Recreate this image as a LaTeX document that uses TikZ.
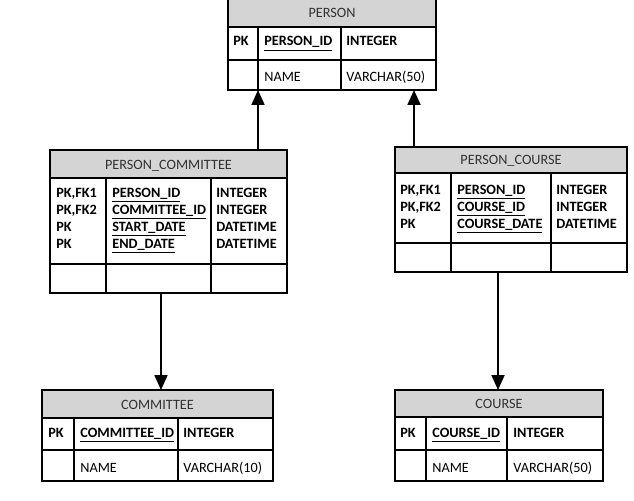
\documentclass[tikz,border=0pt]{standalone}
\usepackage{fontspec}
\setmainfont{Carlito}
\usetikzlibrary{arrows.meta}
\definecolor{headgray}{RGB}{212,212,212}
\definecolor{headink}{RGB}{50,50,50}
\begin{document}
\begin{tikzpicture}
[x=0.02cm,y=-0.02cm,
  font=\fontsize{8.1}{9.6}\selectfont,
  headdecorate/.style={draw,line width=0.75pt,fill=headgray},
  celldecorate/.style={draw,line width=0.75pt},
  titledecorate/.style={anchor=base,inner sep=0pt,text=headink},
  fielddecorate/.style={anchor=base west,inner sep=0pt},
  keydecorate/.style={fielddecorate,font=\fontsize{8.1}{9.6}\selectfont\bfseries},
  linkdecorate/.style={line width=1pt,-{Triangle[length=8.5pt,width=7.4pt]}}]
\useasboundingbox (0,0) rectangle (634,500);
%% tables: header, body cells
\foreach \tabname/\xa/\ca/\cb/\xb/\ya/\yb/\yc/\yd/\caption in {
  person/228/258/341/436/-1/27/60/90/PERSON,
  pcommittee/50/106/211/287/150/178/264/293/PERSON\_COMMITTEE,
  pcourse/395/451/551/627/147/173/243/272/PERSON\_COURSE,
  committee/42/74/178/273/390/418/450/481/COMMITTEE,
  course/395/426/507/603/390/417/450/481/COURSE} {
  \draw[headdecorate] (\xa,\ya) rectangle (\xb,\yb);
  \node[titledecorate] (\tabname) at ({(\xa+\xb)/2},{\yb-9}) {\caption};
  \draw[celldecorate] (\xa,\yb) rectangle (\xb,\yd);
  \draw[celldecorate] (\xa,\yc) -- (\xb,\yc);
  \draw[celldecorate] (\ca,\yb) -- (\ca,\yd);
  \draw[celldecorate] (\cb,\yb) -- (\cb,\yd);
  \coordinate (\tabname-top) at (\xa,\ya);
  \coordinate (\tabname-bot) at (\xa,\yd);
}
%% keyed fields
\foreach \tabname/\i/\xa/\xb/\xc/\y/\key/\field/\kind in {
  person/1/233/264/346/46/PK/PERSON\_ID/INTEGER,
  pcommittee/1/56/112/216/197/{PK,FK1}/PERSON\_ID/INTEGER,
  pcommittee/2/56/112/216/214/{PK,FK2}/COMMITTEE\_ID/INTEGER,
  pcommittee/3/56/112/216/231/PK/START\_DATE/DATETIME,
  pcommittee/4/56/112/216/248/PK/END\_DATE/DATETIME,
  pcourse/1/400/457/556/194/{PK,FK1}/PERSON\_ID/INTEGER,
  pcourse/2/400/457/556/211/{PK,FK2}/COURSE\_ID/INTEGER,
  pcourse/3/400/457/556/228/PK/COURSE\_DATE/DATETIME,
  committee/1/48/80/183/437/PK/COMMITTEE\_ID/INTEGER,
  course/1/400/432/513/437/PK/COURSE\_ID/INTEGER} {
  \node[keydecorate] (\tabname-k\i) at (\xa,\y) {\key};
  \node[keydecorate] (\tabname-f\i) at (\xb,\y) {\underline{\field}};
  \node[keydecorate] (\tabname-t\i) at (\xc,\y) {\kind};
}
%% plain fields
\foreach \tabname/\xb/\xc/\y/\field/\kind in {
  person/264/346/81/NAME/VARCHAR(50),
  committee/80/183/472/NAME/VARCHAR(10),
  course/432/513/472/NAME/VARCHAR(50)} {
  \node[fielddecorate] (\tabname-name) at (\xb,\y) {\field};
  \node[fielddecorate] (\tabname-type) at (\xc,\y) {\kind};
}
%% links
\foreach \src/\srcedge/\dst/\dstedge/\x in {pcommittee/top/person/bot/258,
  pcourse/top/person/bot/414, pcommittee/bot/committee/top/161,
  pcourse/bot/course/top/498} {
  \draw[linkdecorate] (\x,0 |- \src-\srcedge) -- (\x,0 |- \dst-\dstedge);
}
\end{tikzpicture}
\end{document}
